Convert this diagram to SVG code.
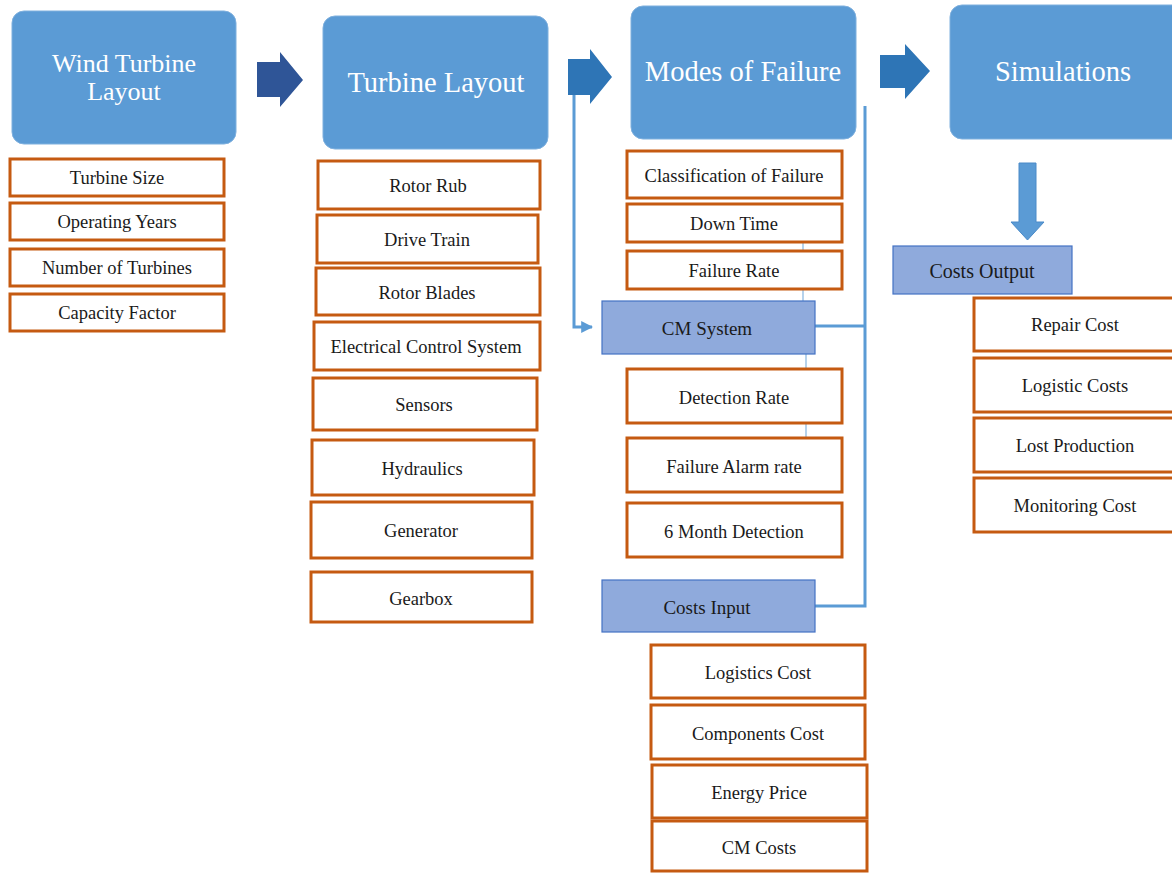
<svg xmlns="http://www.w3.org/2000/svg" width="1172" height="873" viewBox="0 0 1172 873">
<defs>
<style>
.hdr{fill:#5B9BD5;stroke:#7fb0de;stroke-width:1}
.ht{font-family:'Liberation Serif','Times New Roman','DejaVu Serif',serif;font-size:28.5px;fill:#ffffff;text-anchor:middle}
.ht2{font-family:'Liberation Serif','Times New Roman','DejaVu Serif',serif;font-size:26px;fill:#ffffff;text-anchor:middle}
.ob{fill:#ffffff;stroke:#C55A11;stroke-width:3}
.bb{fill:#8FAADC;stroke:#4472C4;stroke-width:1.2}
.lt{font-family:'Liberation Serif','Times New Roman','DejaVu Serif',serif;font-size:18.5px;fill:#1a1a1a;text-anchor:middle}
.bt{font-family:'Liberation Serif','Times New Roman','DejaVu Serif',serif;font-size:19px;fill:#1a1a1a;text-anchor:middle}
.bt2{font-family:'Liberation Serif','Times New Roman','DejaVu Serif',serif;font-size:20px;fill:#1a1a1a;text-anchor:middle}
.conn{fill:none;stroke:#5B9BD5;stroke-width:3}
.thin{fill:none;stroke:#9DC3E6;stroke-width:1.5}
</style>
<marker id="ah" viewBox="0 0 10 10" refX="9" refY="5" markerWidth="4" markerHeight="4" orient="auto" markerUnits="strokeWidth">
<path d="M0,0 L10,5 L0,10 z" fill="#5B9BD5"/>
</marker>
</defs>
<rect width="1172" height="873" fill="#ffffff"/>

<g id="connectors">
<line class="thin" x1="803" y1="242" x2="803" y2="301"/>
<line class="thin" x1="806" y1="354" x2="806" y2="438"/>
<polyline class="conn" points="574,95 574,327 592,327" marker-end="url(#ah)"/>
<polyline class="conn" points="815,326 865,326"/>
<polyline class="conn" points="865,106 865,606 815,606"/>
<polygon points="257,62 280,62 280,52 303,80 280,107 280,97 257,97" fill="#2F5597"/>
<polygon points="568,59 590,59 590,49 612,77 590,104 590,95 568,95" fill="#2E75B6"/>
<polygon points="880,55 905,55 905,44 930,71 905,99 905,88 880,88" fill="#2E75B6"/>
<polygon points="1019,163 1036,163 1036,222 1044,222 1027.5,240 1011,222 1019,222" fill="#5B9BD5" stroke="#4a8ac8" stroke-width="1"/>
</g>

<g id="n-wind-turbine-layout"><rect class="hdr" x="12" y="11" width="224" height="133" rx="12"/><text class="ht2" x="124" y="72">Wind Turbine</text><text class="ht2" x="124" y="100">Layout</text></g>
<g id="n-turbine-layout"><rect class="hdr" x="323" y="16" width="225" height="133" rx="12"/><text class="ht" x="436" y="92">Turbine Layout</text></g>
<g id="n-modes-of-failure"><rect class="hdr" x="631" y="6" width="225" height="133" rx="12"/><text class="ht" x="743" y="81">Modes of Failure</text></g>
<g id="n-simulations"><rect class="hdr" x="950" y="5" width="240" height="134" rx="12"/><text class="ht" x="1063" y="81">Simulations</text></g>

<g id="n-turbine-size"><rect class="ob" x="10" y="159" width="214" height="37"/><text class="lt" x="117" y="184">Turbine Size</text></g>
<g id="n-operating-years"><rect class="ob" x="10" y="203" width="214" height="37"/><text class="lt" x="117" y="228">Operating Years</text></g>
<g id="n-number-of-turbines"><rect class="ob" x="10" y="249" width="214" height="37"/><text class="lt" x="117" y="274">Number of Turbines</text></g>
<g id="n-capacity-factor"><rect class="ob" x="10" y="294" width="214" height="37"/><text class="lt" x="117" y="319">Capacity Factor</text></g>

<g id="n-rotor-rub"><rect class="ob" x="318" y="161" width="222" height="48"/><text class="lt" x="428" y="192">Rotor Rub</text></g>
<g id="n-drive-train"><rect class="ob" x="317" y="215" width="221" height="48"/><text class="lt" x="427" y="246">Drive Train</text></g>
<g id="n-rotor-blades"><rect class="ob" x="316" y="268" width="224" height="47"/><text class="lt" x="427" y="299">Rotor Blades</text></g>
<g id="n-electrical-control-system"><rect class="ob" x="314" y="322" width="226" height="48"/><text class="lt" x="426" y="353">Electrical Control System</text></g>
<g id="n-sensors"><rect class="ob" x="313" y="378" width="224" height="52"/><text class="lt" x="424" y="411">Sensors</text></g>
<g id="n-hydraulics"><rect class="ob" x="312" y="440" width="222" height="55"/><text class="lt" x="422" y="475">Hydraulics</text></g>
<g id="n-generator"><rect class="ob" x="311" y="502" width="221" height="56"/><text class="lt" x="421" y="537">Generator</text></g>
<g id="n-gearbox"><rect class="ob" x="311" y="572" width="221" height="50"/><text class="lt" x="421" y="605">Gearbox</text></g>

<g id="n-classification-of-failure"><rect class="ob" x="627" y="151" width="215" height="47"/><text class="lt" x="734" y="182">Classification of Failure</text></g>
<g id="n-down-time"><rect class="ob" x="627" y="204" width="215" height="38"/><text class="lt" x="734" y="230">Down Time</text></g>
<g id="n-failure-rate"><rect class="ob" x="627" y="251" width="215" height="38"/><text class="lt" x="734" y="277">Failure Rate</text></g>
<g id="n-cm-system"><rect class="bb" x="602" y="301" width="213" height="53"/><text class="bt" x="707" y="335">CM System</text></g>
<g id="n-detection-rate"><rect class="ob" x="627" y="369" width="215" height="54"/><text class="lt" x="734" y="404">Detection Rate</text></g>
<g id="n-failure-alarm-rate"><rect class="ob" x="627" y="438" width="215" height="54"/><text class="lt" x="734" y="473">Failure Alarm rate</text></g>
<g id="n-6-month-detection"><rect class="ob" x="627" y="503" width="215" height="54"/><text class="lt" x="734" y="538">6 Month Detection</text></g>
<g id="n-costs-input"><rect class="bb" x="602" y="580" width="213" height="52"/><text class="bt" x="707" y="614">Costs Input</text></g>

<g id="n-logistics-cost"><rect class="ob" x="651" y="645" width="214" height="53"/><text class="lt" x="758" y="679">Logistics Cost</text></g>
<g id="n-components-cost"><rect class="ob" x="651" y="705" width="214" height="54"/><text class="lt" x="758" y="740">Components Cost</text></g>
<g id="n-energy-price"><rect class="ob" x="652" y="765" width="215" height="53"/><text class="lt" x="759" y="799">Energy Price</text></g>
<g id="n-cm-costs"><rect class="ob" x="652" y="821" width="215" height="50"/><text class="lt" x="759" y="854">CM Costs</text></g>

<g id="n-costs-output"><rect class="bb" x="893" y="246" width="179" height="48"/><text class="bt2" x="982" y="278">Costs Output</text></g>
<g id="n-repair-cost"><rect class="ob" x="974" y="298" width="210" height="53"/><text class="lt" x="1075" y="331">Repair Cost</text></g>
<g id="n-logistic-costs"><rect class="ob" x="974" y="358" width="210" height="54"/><text class="lt" x="1075" y="392">Logistic Costs</text></g>
<g id="n-lost-production"><rect class="ob" x="974" y="418" width="210" height="54"/><text class="lt" x="1075" y="452">Lost Production</text></g>
<g id="n-monitoring-cost"><rect class="ob" x="974" y="478" width="210" height="54"/><text class="lt" x="1075" y="512">Monitoring Cost</text></g>
</svg>
